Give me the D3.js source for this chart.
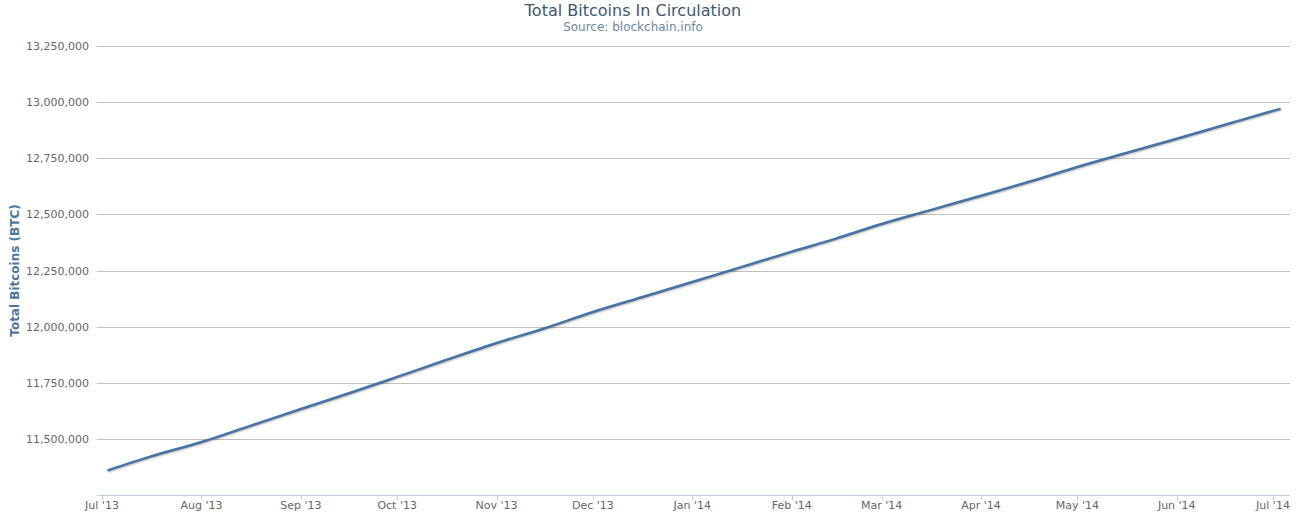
<!DOCTYPE html>
<html>
<head>
<meta charset="utf-8">
<script src="https://cdn.jsdelivr.net/npm/d3@7"></script>
<style>
  html, body { margin: 0; padding: 0; background: #fff; }
  svg { display: block; }
</style>
</head>
<body>
<svg id="chart" width="1302" height="521"></svg>
<script>
const titleText = "Total Bitcoins In Circulation";
const subtitleText = "Source: blockchain.info";
const yAxisTitle = "Total Bitcoins (BTC)";

const dates = [
  "2013-07-03", "2013-07-16", "2013-08-01", "2013-08-16", "2013-09-01", "2013-09-16",
  "2013-10-01", "2013-10-16", "2013-11-01", "2013-11-16", "2013-12-01", "2013-12-16",
  "2014-01-01", "2014-01-16", "2014-02-01", "2014-02-15", "2014-03-01", "2014-03-16",
  "2014-04-01", "2014-04-16", "2014-05-01", "2014-05-16", "2014-06-01", "2014-06-16",
  "2014-07-01", "2014-07-03"
];
const totalBtc = [
  11361000, 11421000, 11486000, 11557000, 11633000, 11703000,
  11776000, 11850000, 11927000, 11993000, 12065000, 12130000,
  12199000, 12264000, 12334000, 12393000, 12457000, 12518000,
  12583000, 12645000, 12711000, 12772000, 12837000, 12899000,
  12961000, 12969000
];
const yTicks = [11500000, 11750000, 12000000, 12250000, 12500000, 12750000, 13000000, 13250000];
const xTickDates = [
  "2013-07-01", "2013-08-01", "2013-09-01", "2013-10-01", "2013-11-01", "2013-12-01",
  "2014-01-01", "2014-02-01", "2014-03-01", "2014-04-01", "2014-05-01", "2014-06-01", "2014-07-01"
];
const xTickLabels = ["Jul '13", "Aug '13", "Sep '13", "Oct '13", "Nov '13", "Dec '13",
  "Jan '14", "Feb '14", "Mar '14", "Apr '14", "May '14", "Jun '14", "Jul '14"];

const parse = d3.utcParse("%Y-%m-%d");
const data = dates.map((d, i) => ({ date: parse(d), value: totalBtc[i] }));

const svg = d3.select("#chart");
const font = "'DejaVu Sans', Verdana, sans-serif";

const plot = { left: 97, right: 1290, top: 46, bottom: 495 };

// x: Jul 1 2013 at 102px, Jul 1 2014 at 1273px
const d0 = parse("2013-07-01"), d1 = parse("2014-07-01");
const x = d3.scaleUtc().domain([d0, d1]).range([102, 1273]);
x.domain([x.invert(plot.left), x.invert(plot.right)]).range([plot.left, plot.right]);

const y = d3.scaleLinear().domain([11250000, 13250000]).range([plot.bottom, plot.top]);

// gridlines
svg.append("g")
  .selectAll("line")
  .data(yTicks)
  .join("line")
  .attr("x1", plot.left).attr("x2", plot.right)
  .attr("y1", d => Math.round(y(d)) + 0.5).attr("y2", d => Math.round(y(d)) + 0.5)
  .attr("stroke", "#c0c0c0").attr("stroke-width", 1);

// y labels
const fmt = d3.format(",");
svg.append("g")
  .selectAll("text")
  .data(yTicks)
  .join("text")
  .attr("x", 89).attr("y", d => y(d) + 4)
  .attr("text-anchor", "end")
  .attr("font-family", font).attr("font-size", 11).attr("fill", "#666")
  .text(d => fmt(d));

// x axis line
svg.append("line")
  .attr("x1", plot.left).attr("x2", plot.right)
  .attr("y1", plot.bottom + 0.5).attr("y2", plot.bottom + 0.5)
  .attr("stroke", "#c0d0e0").attr("stroke-width", 1);

const xTicks = xTickDates.map(parse);
svg.append("g")
  .selectAll("line")
  .data(xTicks)
  .join("line")
  .attr("x1", d => Math.round(x(d)) + 0.5).attr("x2", d => Math.round(x(d)) + 0.5)
  .attr("y1", plot.bottom).attr("y2", plot.bottom + 5)
  .attr("stroke", "#c0d0e0").attr("stroke-width", 1);

svg.append("g")
  .selectAll("text")
  .data(xTicks)
  .join("text")
  .attr("x", d => x(d)).attr("y", 509)
  .attr("text-anchor", "middle")
  .attr("font-family", font).attr("font-size", 11).attr("fill", "#666")
  .text((d, i) => xTickLabels[i]);

// line with shadow
const line = d3.line().x(d => x(d.date)).y(d => y(d.value)).curve(d3.curveMonotoneX);
[ {w: 5, o: 0.05}, {w: 3, o: 0.1}, {w: 1, o: 0.15} ].forEach(s => {
  svg.append("path").datum(data)
    .attr("d", line)
    .attr("fill", "none")
    .attr("stroke", "#000").attr("stroke-opacity", s.o).attr("stroke-width", s.w)
    .attr("transform", "translate(1,1)")
    .attr("stroke-linejoin", "round").attr("stroke-linecap", "round");
});
svg.append("path").datum(data)
  .attr("d", line)
  .attr("fill", "none")
  .attr("stroke", "#4572a7").attr("stroke-width", 2.5)
  .attr("stroke-linejoin", "round").attr("stroke-linecap", "round");

// titles
svg.append("text")
  .attr("x", 633).attr("y", 16)
  .attr("text-anchor", "middle")
  .attr("font-family", font).attr("font-size", 16).attr("fill", "#3e576f")
  .text(titleText);
svg.append("text")
  .attr("x", 633).attr("y", 31)
  .attr("text-anchor", "middle")
  .attr("font-family", font).attr("font-size", 12).attr("fill", "#6d869f")
  .text(subtitleText);

svg.append("text")
  .attr("transform", `translate(19, ${(plot.top + plot.bottom) / 2}) rotate(-90)`)
  .attr("text-anchor", "middle")
  .attr("font-family", font).attr("font-size", 12).attr("font-weight", "bold").attr("fill", "#4d759e")
  .text(yAxisTitle);
</script>
</body>
</html>
